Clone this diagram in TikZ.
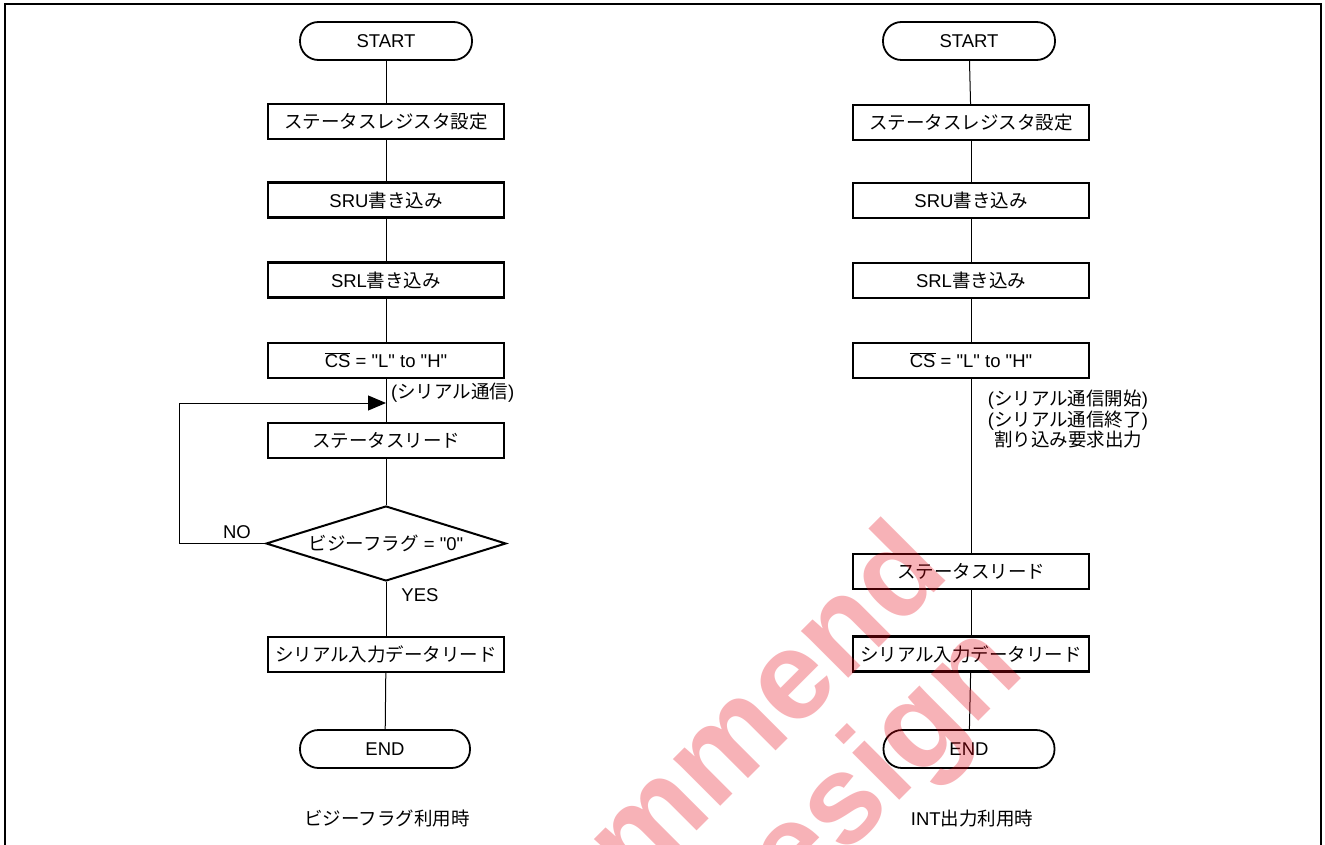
\documentclass[tikz,border=0pt]{standalone}
\usepackage{fontspec}
\setmainfont{Liberation Sans}[Ligatures=TeXOff]
\newfontfamily\jp{Noto Sans CJK JP}
\usetikzlibrary{shapes.geometric,arrows.meta}
\definecolor{wmred}{RGB}{230,0,18}
\begin{document}
\begin{tikzpicture}[x=1pt,y=-1pt,
  every node/.style={font=\fontsize{18.5}{20.5}\selectfont, inner sep=0pt},
  term/.style={draw, line width=1.8pt, rounded corners=18.5pt, minimum width=172pt, minimum height=38pt},
  proc/.style={draw, line width=2.3pt, minimum width=236pt, minimum height=35pt},
  dec/.style={draw, line width=2pt, diamond, aspect=3.2, minimum width=240pt, minimum height=75pt},
  conn/.style={line width=1pt},
  wm/.style={rotate=45, anchor=base, text=wmred, text opacity=0.3, font=\bfseries\fontsize{126}{140}\selectfont}]
\useasboundingbox (0,0) rectangle (1325,845);
% frame
\draw[line width=2.5pt, line join=miter] (5,860) -- (5,4) -- (1321,4) -- (1321,860);

% left flow
\node[term] (ls) at (386,41) {START};
\node[proc] (l1) at (386,121.5) {\jp ステータスレジスタ設定};
\node[proc] (l2) at (386,200) {SRU{\jp 書き込み}};
\node[proc] (l3) at (386,280) {SRL{\jp 書き込み}};
\node[proc] (l4) at (386,360.5) {$\overline{\hbox{CS}}$ = "L" to "H"};
\node[proc] (l5) at (386,440.5) {\jp ステータスリード};
\node[dec]  (l6) at (386,543.5) {{\jp ビジーフラグ} = "0"};
\node[proc] (l7) at (386,654.5) {\jp シリアル入力データリード};
\node[term, minimum width=170pt] (le) at (385,749) {END};
\node (lc) at (387,818) {\jp ビジーフラグ利用時};
\node[anchor=west] (lt) at (391,393) {({\jp シリアル通信})};
\node (no) at (237,532) {NO};
\node (yes) at (420,595) {YES};
\coordinate (lm) at (386,403);
\coordinate (lp) at (179,403);

\draw[conn] (ls) -- (l1);
\draw[conn] (l1) -- (l2);
\draw[conn] (l2) -- (l3);
\draw[conn] (l3) -- (l4);
\draw[conn] (l4) -- (l5);
\draw[conn] (l5) -- (l6);
\draw[conn] (l6) -- (l7);
\draw[conn] (l7) -- (le);
\draw[conn, -{Triangle[length=18pt,width=15pt]}] (l6.west) -- (l6.west -| lp) -- (lp) -- (lm);

% right flow
\node[term] (rs) at (969,41) {START};
\node[proc] (r1) at (971,122.5) {\jp ステータスレジスタ設定};
\node[proc] (r2) at (971,200.5) {SRU{\jp 書き込み}};
\node[proc] (r3) at (971,280.5) {SRL{\jp 書き込み}};
\node[proc] (r4) at (971,360.5) {$\overline{\hbox{CS}}$ = "L" to "H"};
\node[proc] (r5) at (971,571.5) {\jp ステータスリード};
\node[proc] (r6) at (971,654) {\jp シリアル入力データリード};
\node[term, minimum width=171pt] (re) at (969,749) {END};
\node (rc) at (972,818) {INT{\jp 出力利用時}};
\node[align=center] (rt) at (1068,419) {({\jp シリアル通信開始})\\({\jp シリアル通信終了})\\{\jp 割り込み要求出力}};

\draw[conn] (rs) -- (r1);
\draw[conn] (r1) -- (r2);
\draw[conn] (r2) -- (r3);
\draw[conn] (r3) -- (r4);
\draw[conn] (r4) -- (r5);
\draw[conn] (r5) -- (r6);
\draw[conn] (r6) -- (re);

% watermark
\begin{scope}
\clip (0,0) rectangle (1325,845);
\node[wm] (w1) at (598,929) {Not Recommend};
\node[wm] (w2) at (703,997) {for New Design};
\end{scope}
\end{tikzpicture}
\end{document}
